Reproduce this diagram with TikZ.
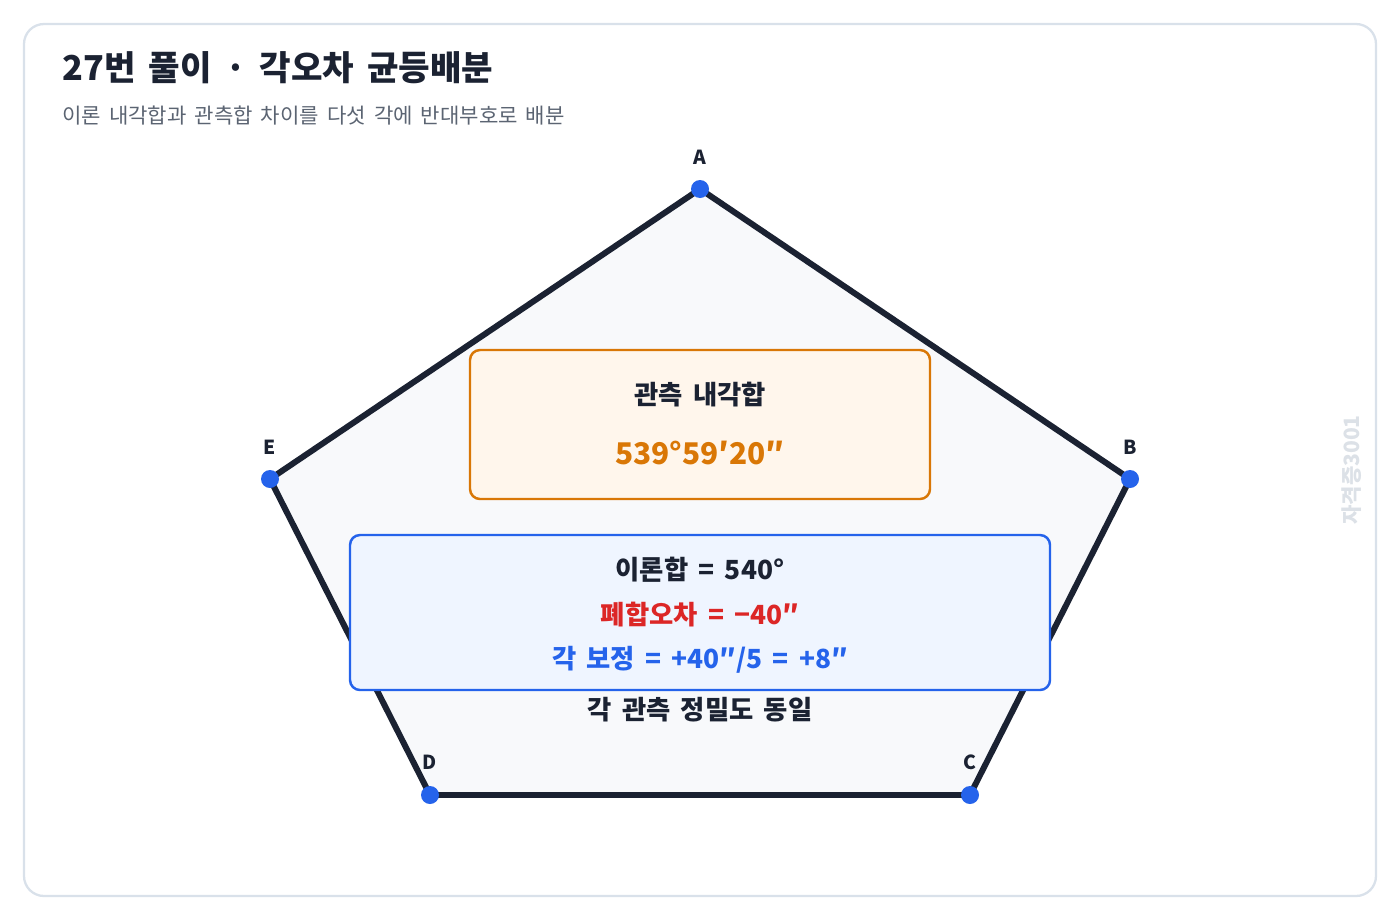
\documentclass[tikz,border=0pt]{standalone}
\usepackage{fontspec}
\setmainfont[WordSpace=1.7]{Noto Sans CJK KR}
\definecolor{ink}{HTML}{1B2232}
\definecolor{subgray}{HTML}{5B6472}
\definecolor{framegray}{HTML}{D9E1EA}
\definecolor{polyfill}{HTML}{F8F9FB}
\definecolor{dotblue}{HTML}{2563EB}
\definecolor{obsorange}{HTML}{D97706}
\definecolor{obsfill}{HTML}{FFF6EC}
\definecolor{calcfill}{HTML}{EFF5FF}
\definecolor{errred}{HTML}{DC2626}
\definecolor{markgray}{HTML}{DCE1E7}
\tikzset{
	vertex/.style={circle, fill=dotblue, inner sep=0pt, minimum size=0.36cm},
	vlabel/.style={font=\bfseries\fontsize{11}{13}\selectfont, text=ink},
	boxtext/.style={font=\bfseries\fontsize{15}{18}\selectfont},
	obsbox/.style={draw=obsorange, line width=1.4pt, fill=obsfill, rounded corners=0.2cm},
	calcbox/.style={draw=dotblue, line width=1.4pt, fill=calcfill, rounded corners=0.2cm}
}
\begin{document}
\begin{tikzpicture}[x=0.02cm, y=-0.02cm]
	        \useasboundingbox (0, 0) rectangle (1400, 920);
	        \draw [framegray, line width=1.3pt, fill=white, rounded corners=0.4cm] (24, 24) rectangle (1376, 896);
	        \node [anchor=west, inner sep=0pt, text=ink, font=\bfseries\fontsize{19.5}{23}\selectfont] at (62, 68) (title) {27번 풀이 · 각오차 균등배분};
	        \node [anchor=west, inner sep=0pt, text=subgray, font=\fontsize{12}{14}\selectfont] at (62, 116) (subtitle) {이론 내각합과 관측합 차이를 다섯 각에 반대부호로 배분};
	        \node [rotate=90, text=markgray, font=\bfseries\fontsize{12}{14}\selectfont] at (1352, 470) (mark) {자격증3001};
	        % pentagon
	        \coordinate (pA) at (700, 189);
	        \coordinate (pB) at (1130, 479);
	        \coordinate (pC) at (970, 795);
	        \coordinate (pD) at (430, 795);
	        \coordinate (pE) at (270, 479);
	        \draw [ink, line width=3.4pt, fill=polyfill, line join=round] (pA) -- (pB) -- (pC) -- (pD) -- (pE) -- cycle;
	        \node [vertex] at (pA) (A) {};
	        \node [vertex] at (pB) (B) {};
	        \node [vertex] at (pC) (C) {};
	        \node [vertex] at (pD) (D) {};
	        \node [vertex] at (pE) (E) {};
	        \node [vlabel] at (700, 157) (LA) {A};
	        \node [vlabel] at (1130, 447) (LB) {B};
	        \node [vlabel] at (970, 762) (LC) {C};
	        \node [vlabel] at (430, 762) (LD) {D};
	        \node [vlabel] at (270, 447) (LE) {E};
	        % boxes
	        \draw [obsbox] (470, 350) rectangle (930, 499);
	        \node [boxtext, text=ink] at (700, 395) (obs) {관측 내각합};
	        \node [text=obsorange, font=\bfseries\fontsize{17}{20}\selectfont] at (700, 453) (obsval) {539°59′20″};
	        \draw [calcbox] (350, 535) rectangle (1050, 690);
	        \node [boxtext, text=ink] at (700, 570) (theory) {이론합 = 540°};
	        \node [boxtext, text=errred] at (700, 615) (misclose) {폐합오차 = −40″};
	        \node [boxtext, text=dotblue] at (700, 660) (corr) {각 보정 = +40″/5 = +8″};
	        \node [boxtext, text=ink] at (700, 710) (note) {각 관측 정밀도 동일};
        \end{tikzpicture}
\end{document}
